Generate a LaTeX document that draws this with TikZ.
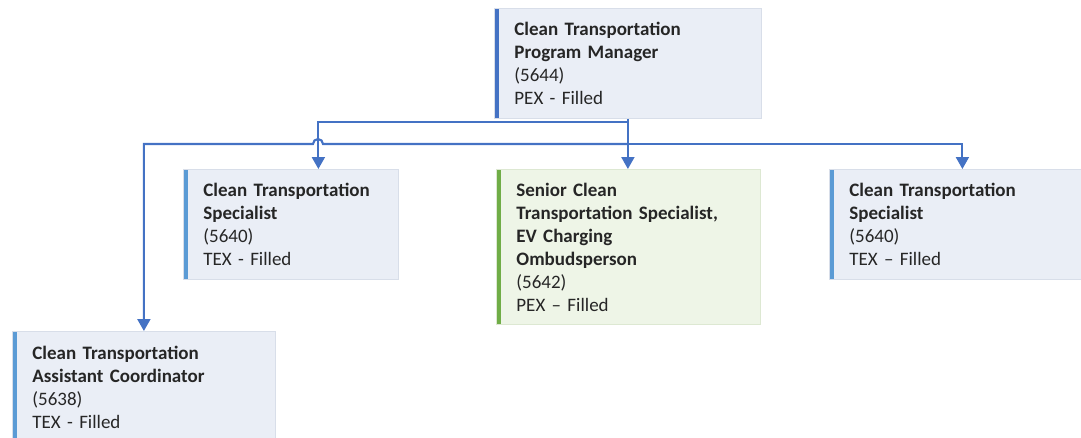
\documentclass[tikz,border=0pt]{standalone}
\usepackage{fontspec}
\setmainfont{Carlito}
\usetikzlibrary{arrows.meta, positioning}
\definecolor{linkblue}{HTML}{4472C4}
\definecolor{darkbar}{HTML}{4472C4}
\definecolor{lightbar}{HTML}{5B9BD5}
\definecolor{greenbar}{HTML}{70AD47}
\definecolor{boxfill}{HTML}{EAEEF6}
\definecolor{greenfill}{HTML}{EEF5E7}
\definecolor{boxline}{HTML}{D8DEE9}
\definecolor{greenline}{HTML}{DDE8D2}
\tikzstyle{post} = [rectangle, anchor=north west, minimum height=110pt, inner xsep=20pt, inner ysep=0pt, align=left, draw=boxline, line width=0.8pt, fill=boxfill, text=black!85, font=\fontsize{19}{23}\selectfont]
\tikzstyle{link} = [linkblue, line width=2.1pt, -{Triangle[length=12pt,width=13pt]}]
\tikzset{stripe/.style={path picture={\fill[#1] (path picture bounding box.north west) rectangle ([xshift=5pt]path picture bounding box.south west);}}}

\begin{document}
\begin{tikzpicture}[x=1pt, y=-1pt]
\useasboundingbox (0,0) rectangle (1081,437);
% Row 1
\node (mgr) [post, stripe=darkbar, text width=227pt] at (494,8) {\textbf{Clean Transportation}\\\textbf{Program Manager}\\(5644)\\PEX - Filled};
% Row 2
\node (spec1) [post, stripe=lightbar, text width=175pt] at (183,169) {\textbf{Clean Transportation}\\\textbf{Specialist}\\(5640)\\TEX - Filled};
\node (sr) [post, stripe=greenbar, fill=greenfill, draw=greenline, minimum height=155pt, text width=224pt] at (496,169) {\textbf{Senior Clean}\\\textbf{Transportation Specialist,}\\\textbf{EV Charging}\\\textbf{Ombudsperson}\\(5642)\\PEX -- Filled};
\node (spec2) [post, stripe=lightbar, text width=226pt] at (829,169) {\textbf{Clean Transportation}\\\textbf{Specialist}\\(5640)\\TEX -- Filled};
% Row 3
\node (asst) [post, stripe=lightbar, minimum height=112pt, text width=223pt] at (12,331) {\textbf{Clean Transportation}\\\textbf{Assistant Coordinator}\\(5638)\\TEX - Filled};

% Arrows
\coordinate (tap) at (mgr.south |- 0,122);
\coordinate (hub) at (mgr.south |- 0,144);
\draw [link] (mgr.south) -- (mgr.south |- sr.north);
\draw [link] (tap) -| ([xshift=27.5pt]spec1.north);
\draw [link] (hub) -- (323,144) arc[start angle=0, end angle=180, radius=5pt] -| (asst.north);
\draw [link] (hub) -| (spec2.north);
\end{tikzpicture}
\end{document}
